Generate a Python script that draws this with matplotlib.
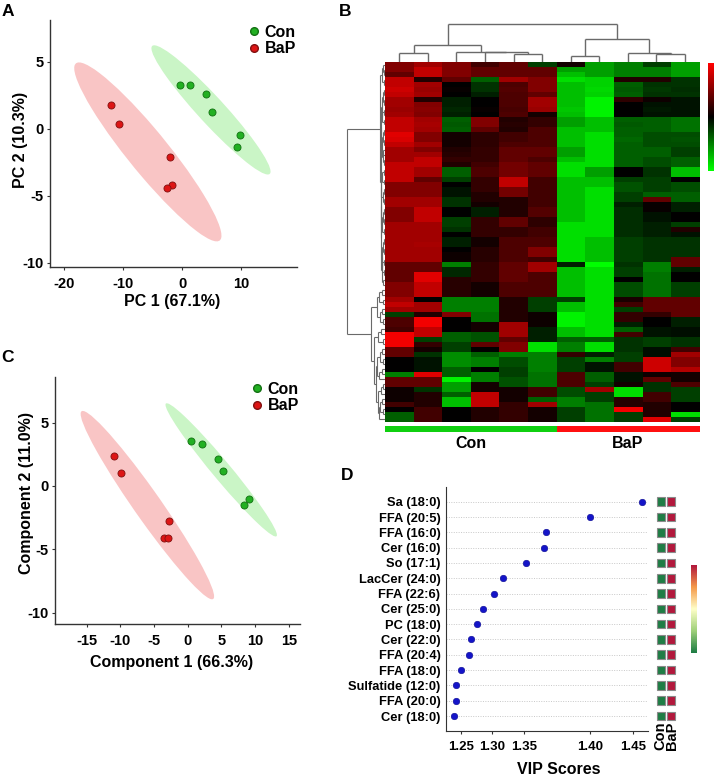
import numpy as np
import matplotlib
matplotlib.use("Agg")
import matplotlib.pyplot as plt
from matplotlib.patches import Ellipse, Rectangle
from matplotlib.colors import LinearSegmentedColormap, ListedColormap
from matplotlib.collections import LineCollection
from matplotlib.lines import Line2D

plt.rcParams['font.family'] = ['Liberation Sans', 'DejaVu Sans']
plt.rcParams['font.weight'] = 'bold'
plt.rcParams['axes.unicode_minus'] = False

# ---------------- data ----------------
groups = ['Con', 'BaP']
# Panel A: PCA scores
pca_con_x = [-0.45, 1.35, 4.06, 5.07, 9.8, 9.24]
pca_con_y = [3.23, 3.23, 2.56, 1.27, -0.5, -1.37]
pca_bap_x = [-12.07, -10.7, -2.1, -1.8, -2.54]
pca_bap_y = [1.74, 0.34, -2.12, -4.16, -4.43]
# Panel C: PLS-DA scores
pls_con_x = [0.49, 2.17, 4.45, 5.19, 9.1, 8.4]
pls_con_y = [3.55, 3.31, 2.13, 1.16, -1.07, -1.47]
pls_bap_x = [-10.89, -9.9, -2.73, -3.56, -2.88]
pls_bap_y = [2.4, 1.03, -2.76, -4.12, -4.12]

# Panel B: heatmap (rows x 11 samples), z-scores
sample_groups = ['Con'] * 6 + ['BaP'] * 5
hm_values = [
    [2, 2.5, 2, 1, 1.5, -1, 0.3, -2.5, -2, -1, -2.5],
    [2, 3, 2, 1.5, 1.5, 1.5, -2.5, -2.5, -2, -2, -2.5],
    [1.5, 3, 2, 1.5, 1.5, 1.5, -3, -2.5, -2, -2, -2.5],
    [3, 0.5, 1.5, -1.5, 2.5, 2, -3.5, -3.3, 0.5, 0.5, -0.8],
    [3, 2.5, 0, -0.8, 1.2, 2, -3, -3.3, -1.5, -0.8, -0.8],
    [3.2, 2.4, 0.1, -0.8, 1.3, 2, -3, -3.4, -1.4, -0.9, -0.7],
    [3, 2.5, 0, -0.5, 1.2, 1.5, -3, -3.3, -1.5, -0.8, -0.8],
    [2.5, 0.5, -0.5, 0, 1.2, 2.5, -3, -3.8, 0.7, 0.2, -0.3],
    [2.5, 2, -0.5, 0, 1.2, 2.5, -3, -3.8, 0, -0.3, -0.3],
    [2.4, 2.1, -0.6, 0.1, 1.1, 2.4, -3.1, -3.8, 0, -0.4, -0.3],
    [2.5, 2, -0.5, 0, 1.2, 0.3, -3, -3.8, 0, -0.3, -0.3],
    [3, 2.5, -1.5, 2, 0.5, 0.8, -2.5, -3, -1.5, -1.5, -1.8],
    [3, 2.6, -1.4, 2, 0.6, 0.8, -2.5, -3, -1.4, -1.5, -1.8],
    [3, 2.5, -1.5, 1.5, 0.5, 1.2, -3, -3, -1.5, -1.5, -1.8],
    [3.5, 2, 0.3, 0.7, 1, 1.2, -3, -3.5, -1.5, -1.2, -1.2],
    [3.4, 2, 0.3, 0.7, 1, 1.2, -3, -3.5, -1.6, -1.2, -1.3],
    [3, 2.5, 0.3, 0.7, 1.2, 1.2, -3, -3.5, -1.5, -1.2, -1.2],
    [2.5, 2, 0.5, 0.8, 1.5, 1.5, -2.5, -3.5, -1.5, -1.5, -1],
    [2.5, 2.5, 0.6, 0.8, 1.5, 1.5, -2.5, -3.5, -1.5, -1.5, -1],
    [2.5, 3, 0.8, 0.8, 1.5, 1.2, -3, -3.5, -1.5, -1.2, -1.5],
    [3, 3, 0.5, 1, 1.8, 1.5, -3.5, -3.5, -1.5, -1.2, -1.5],
    [3, 2.5, -1.5, 1.2, 1.8, 1.5, -3.5, -2.5, 0, -0.8, -3],
    [3, 2.5, -1.5, 1.2, 1.8, 1.5, -3.5, -2.5, 0, -0.8, -3],
    [3, 1.5, -1, 0.8, 3, 1, -3, -3, -1, -1, 0],
    [2, 2, 0, 0.8, 3, 1, -3, -3, -1.3, -1, -1.2],
    [2, 2, -0.3, 0.8, 1.8, 1, -3, -3.5, -1.3, -1, -1.2],
    [2, 2, -0.3, 0.5, 1.8, 1, -3, -3.5, -1, -1.5, -1.5],
    [2.5, 2.5, -0.8, 0.5, 0.5, 1, -3, -3.5, -1, 1.5, -1.5],
    [2.5, 2.5, -0.8, 0.3, 0.5, 1, -3, -3.5, -0.5, 0.1, -0.5],
    [2, 3, 0, -0.5, 0.5, 1.3, -3, -3.5, -0.7, 0.1, -0.5],
    [2, 3, 0, -0.5, 0.5, 1.3, -3, -3.5, -0.7, -0.3, 0],
    [2, 3, -1, 0.8, 1.5, 0.7, -3, -3.5, -0.7, -0.3, 0],
    [2.5, 2.5, -1, 0.8, 1.5, 0.7, -3.5, -3.5, -0.7, -0.5, -1],
    [2.5, 2.5, -0.8, 0.8, 0.8, 1, -3.5, -3.5, -0.7, -0.5, 0.5],
    [2.5, 2.5, 0, 0.8, 0.8, 1, -3.5, -3.5, -0.7, -0.5, -0.3],
    [2.5, 2.5, -0.5, 0.3, 1.2, 1.2, -3.5, -3, -1, -0.8, -0.8],
    [2.5, 2.6, -0.5, 0.3, 1.2, 1.2, -3.5, -3, -1, -0.8, -0.8],
    [2.5, 2.5, 0, 0.6, 1.2, 2, -3.5, -3, -1, -0.8, -0.8],
    [2.5, 2.5, 0.2, 0.6, 1.2, 2, -3.5, -3, -1, -0.8, -0.8],
    [2.5, 2.5, 0.2, 0.6, 1.2, 1, -3.5, -3, -1, -0.8, 1.5],
    [1.5, 1.5, -2, 0.8, 1.5, 2.5, -0.5, -4, -0.8, -2, 1.5],
    [1.5, 1.5, -0.6, 0.8, 1.5, 2.5, -3, -3.5, -1, -2, -0.5],
    [1.5, 3.5, -0.6, 0.8, 1.5, 1.2, -3, -3.5, -1, -1.8, 0],
    [1.5, 3.5, 0.6, 0.8, 1.5, 1.2, -3, -3.5, 0, -1.8, 0],
    [2, 3, 0.6, 0.3, 1.2, 1.2, -3, -3.5, -1.2, -1.8, -1],
    [2, 3, 0.6, 0.3, 1.2, 1.2, -3, -3.5, -1.2, -1.8, -1],
    [2, 3, 0.6, 0.3, 1.2, 1.2, -3, -3.5, -1.2, -1.8, -1],
    [2.5, 0, -2, -2, 0.5, -1, -1, -3.5, 0.4, 1.5, 1.5],
    [3, 2.5, -2, -2, 0.5, -1, -3, -3.5, 1, 1.5, 1.5],
    [2.5, 2.5, -2, -2, 0.5, -1, -3, -3.5, -1, 1.5, 1.5],
    [-1, 0.5, 2, -1.8, 0.5, 0.2, -3.8, -3.5, 0.8, 0.8, 1.5],
    [1.2, 3.8, 0, -1.8, 0.5, 0.2, -3.8, -3.5, 0.8, 0, -0.5],
    [1.2, 3.8, 0, 0.3, 2.5, 0.2, -3.8, -3.5, -0.5, 0, -0.5],
    [1, 3, 0, 0.3, 2.5, -0.5, -3, -3.5, -1.5, -0.3, -0.2],
    [3.8, 3, -1.5, -1.3, 2.5, -0.5, -3, -3.5, 1, -0.3, -0.2],
    [3.8, -1, -1.5, -1.3, 1.5, -0.5, -1.5, -1.5, -0.8, -1, -0.8],
    [3.8, 0.8, -1, 1.5, 2, -3.5, -2, -3.5, -0.8, -1, -0.8],
    [1.5, 0.3, -1, 0, 2, -3.5, -2, -3.5, -0.8, -0.2, 1],
    [1.5, -0.8, -2.2, -1.5, -2, -2, 0.8, -0.5, -1, -0.2, 2.5],
    [0, -0.3, -2.2, -2, -1.2, -2, -1, -2, -1, 3.2, 2],
    [0, -0.3, -2.2, -2, -1.2, -2, -1, -0.3, 1, 3.2, 2],
    [0, -0.3, -1.5, 0, -1, -2, -1, -0.3, 1, 3.2, 2.8],
    [-2, 3.5, -1.5, -2, -1, -1.8, 1.2, -1.5, -0.3, 0.2, 0.3],
    [1.5, 1.5, -3.8, -2, -1.3, -1.8, 1.2, -1.5, -0.3, 1.5, 0.3],
    [1.5, 1.5, -2.5, 0.3, -1.3, -1.8, 1.2, -1, 0.3, -0.8, 1.2],
    [0.2, -0.8, -2.5, 0.3, 0.3, 1, -1.2, 2.5, -3.5, -0.8, -1],
    [0.2, 0.5, -1.5, 3, 0.3, 1, -1.2, -1, -3.5, 1, -1],
    [0.2, 0.5, -3, 3, 0.3, -1.5, -2, -1, 0.6, 1, -1],
    [1, 0.5, -3, 3, 0.8, 2.5, -2, -1.8, 0.6, 0.5, 0],
    [0, 1, 0, 0.5, 0.8, 0.3, -1, -1.8, 3.8, 0.5, 0],
    [-1.5, 1, 0, 0.5, 0.8, 0.3, -1, -1.8, -1, 0.5, -3.5],
    [-1.5, 1, 0, 0.5, 0.8, 0.3, -1, -1.8, -1, 3.5, -1],
]
# dendrogram merge heights between adjacent leaves (pixel-like units)
col_gaps = [9.4, 17, 10.3, 10, 7.7, 37.7, 5.7, 23.4, 8.7, 8]
row_gaps = ([2.0, 1.2, 3.0, 1.5, 5.0,
             1.0, 2.2, 0.8, 3.5, 1.4, 2.6, 0.9, 4.2, 1.1, 2.0,
             0.7, 3.1, 1.6, 2.4, 0.8, 4.5, 1.3, 2.8, 0.9, 3.6,
             1.2, 2.1, 0.6, 3.9, 1.5, 2.5, 1.0, 3.3, 1.1, 4.0,
             0.8, 2.2, 1.4, 3.0, 0.7, 2.7, 1.2, 3.4, 1.8,
             38.0,
             3.0, 6.5, 2.0, 8.5, 3.5, 5.0, 2.5,
             14.3,
             4.0, 7.0, 2.5, 10.7, 3.0, 5.5, 2.0, 8.0, 3.5, 6.0,
             9.5, 2.5, 4.5, 7.5, 3.0, 5.0, 2.0, 6.5])

# Panel D: VIP scores
vip_names = ['Sa (18:0)', 'FFA (20:5)', 'FFA (16:0)', 'Cer (16:0)', 'So (17:1)',
             'LacCer (24:0)', 'FFA (22:6)', 'Cer (25:0)', 'PC (18:0)', 'Cer (22:0)',
             'FFA (20:4)', 'FFA (18:0)', 'Sulfatide (12:0)', 'FFA (20:0)', 'Cer (18:0)']
vip_scores = [1.460, 1.400, 1.3665, 1.365, 1.351, 1.316, 1.303, 1.286, 1.275,
              1.267, 1.263, 1.250, 1.243, 1.242, 1.240]
vip_con_level = [-1] * 15
vip_bap_level = [1] * 15
vip_ticks = [1.25, 1.30, 1.35, 1.40, 1.45]

# ---------------- figure ----------------
W, H = 714, 781
fig = plt.figure(figsize=(W / 100, H / 100), dpi=100)


def box(x0, y0, x1, y1):
    return [x0 / W, 1 - y1 / H, (x1 - x0) / W, (y1 - y0) / H]


def ftext(x, y, s, **kw):
    fig.text(x / W, 1 - y / H, s, **kw)


CHI2_95 = 5.991


def conf_ellipse(ax, x, y, color):
    x = np.asarray(x); y = np.asarray(y)
    cov = np.cov(x, y)
    vals, vecs = np.linalg.eigh(cov)
    order = vals.argsort()[::-1]
    vals, vecs = vals[order], vecs[:, order]
    ang = np.degrees(np.arctan2(vecs[1, 0], vecs[0, 0]))
    w, h = 2 * np.sqrt(CHI2_95 * vals)
    ax.add_patch(Ellipse((x.mean(), y.mean()), w, h, angle=ang,
                         facecolor=color, edgecolor='none', zorder=1))


def score_panel(rect, cx, cy, bx, by, xlim, ylim, xticks, yticks, tfs):
    ax = fig.add_axes(box(*rect))
    conf_ellipse(ax, bx, by, '#f9c5c5')
    conf_ellipse(ax, cx, cy, '#caf5c6')
    ax.scatter(cx, cy, s=26, color='#22b022', edgecolor='#127012', linewidth=0.6, zorder=3)
    ax.scatter(bx, by, s=26, color='#dd1515', edgecolor='#801010', linewidth=0.6, zorder=3)
    ax.set_xlim(*xlim); ax.set_ylim(*ylim)
    ax.set_xticks(xticks); ax.set_yticks(yticks)
    for s in ['top', 'right']:
        ax.spines[s].set_visible(False)
    for s in ['left', 'bottom']:
        ax.spines[s].set_color('#333333'); ax.spines[s].set_linewidth(1.0)
    ax.tick_params(axis='both', direction='out', length=2.5, width=0.8, labelsize=tfs, color='#333333')
    ax.tick_params(axis='x', pad=5)
    ax.tick_params(axis='y', pad=2)
    handles = [Line2D([], [], marker='o', ls='none', color='#22b022', markeredgecolor='#127012', markersize=5.5),
               Line2D([], [], marker='o', ls='none', color='#dd1515', markeredgecolor='#801010', markersize=5.5)]
    ax.legend(handles, groups, loc='upper right', bbox_to_anchor=(1.035, 1.02), frameon=False,
              fontsize=11.5, handletextpad=0.05, labelspacing=0.1, borderaxespad=0.2, handlelength=1.2)
    return ax


# Panel A
score_panel((50, 20, 297, 267), pca_con_x, pca_con_y, pca_bap_x, pca_bap_y,
            (-22.4, 19.4), (-10.3, 8.1), [-20, -10, 0, 10], [5, 0, -5, -10], 10.5)
ftext(172, 301, 'PC 1 (67.1%)', ha='center', va='center', fontsize=11.5)
ftext(21, 140, 'PC 2 (10.3%)', ha='center', va='center', rotation=90, fontsize=11.5)

# Panel C
score_panel((55, 377, 300, 624), pls_con_x, pls_con_y, pls_bap_x, pls_bap_y,
            (-19.7, 16.66), (-10.9, 8.6), [-15, -10, -5, 0, 5, 10, 15], [5, 0, -5, -10], 10.5)
ftext(172, 662, 'Component 1 (66.3%)', ha='center', va='center', fontsize=11.5)
ftext(27, 493, 'Component 2 (11.0%)', ha='center', va='center', rotation=90, fontsize=11.5)

# Panel B heatmap
hm = np.array(hm_values, dtype=float)
nrow, ncol = hm.shape
hm_cmap = LinearSegmentedColormap.from_list('gkr', ['#00ff00', '#000000', '#ff0000'])
HX0, HX1, HY0, HY1 = 385, 699.3, 62, 422
axh = fig.add_axes(box(HX0, HY0, HX1, HY1))
axh.imshow(hm, cmap=hm_cmap, vmin=-4, vmax=4, aspect='auto', interpolation='nearest')
axh.set_axis_off()


def dendro_segments(gaps, lo, hi, segs):
    if lo == hi:
        return float(lo), 0.0
    k = lo + int(np.argmax(gaps[lo:hi]))
    h = gaps[k]
    p1, h1 = dendro_segments(gaps, lo, k, segs)
    p2, h2 = dendro_segments(gaps, k + 1, hi, segs)
    segs.append(((p1, h1), (p1, h)))
    segs.append(((p2, h2), (p2, h)))
    segs.append(((p1, h), (p2, h)))
    return (p1 + p2) / 2, h


# column dendrogram
segs = []
dendro_segments(col_gaps, 0, ncol - 1, segs)
axcd = fig.add_axes(box(HX0, 20, HX1, HY0))
axcd.add_collection(LineCollection(segs, colors='#6a6a6a', linewidths=1.0))
axcd.set_xlim(-0.5, ncol - 0.5); axcd.set_ylim(0, 42)
axcd.set_axis_off()

# row dendrogram
segs = []
dendro_segments(row_gaps, 0, nrow - 1, segs)
segs = [((h1, p1), (h2, p2)) for (p1, h1), (p2, h2) in segs]
axrd = fig.add_axes(box(345, HY0, HX0, HY1))
axrd.add_collection(LineCollection(segs, colors='#6a6a6a', linewidths=0.8))
axrd.set_xlim(40, 0); axrd.set_ylim(nrow - 0.5, -0.5)
axrd.set_axis_off()

# group bar
axg = fig.add_axes(box(HX0, 426, HX1, 432))
gcode = np.array([[groups.index(g) for g in sample_groups]])
axg.imshow(gcode, cmap=ListedColormap(['#10d010', '#ff1010']), vmin=0, vmax=1,
           aspect='auto', interpolation='nearest')
axg.set_axis_off()
colw = (HX1 - HX0) / ncol
for g in groups:
    idx = [i for i, s in enumerate(sample_groups) if s == g]
    ftext(HX0 + colw * (np.mean(idx) + 0.5), 443, g, ha='center', va='center', fontsize=11.5)

# heatmap colour key
axk = fig.add_axes(box(708, 63, 716, 171))
axk.imshow(np.linspace(4, -4, 100)[:, None], cmap=hm_cmap, vmin=-4, vmax=4, aspect='auto')
axk.set_axis_off()

# Panel D
kv = [1.20, 1.25, 1.30, 1.35, 1.40, 1.45, 1.50]
kp = [-31.6, 0, 31.6, 63.6, 129.3, 172.6, 215.9]


def fwd(v):
    return np.interp(v, kv, kp)


def inv(p):
    return np.interp(p, kp, kv)


axd = fig.add_axes(box(446, 486.7, 648, 730.7))
axd.set_xscale('function', functions=(fwd, inv))
ypos = np.arange(len(vip_names))
for yv in ypos:
    axd.axhline(yv, color='#c8c8c8', lw=0.7, ls=(0, (1, 1.5)), zorder=1)
axd.scatter(vip_scores, ypos, s=22, color='#1414c8', edgecolor='#0a0a90', linewidth=0.4, zorder=3)
axd.set_xlim(1.2267, 1.467)
axd.set_ylim(len(vip_names) - 0.04, -0.98)
axd.set_yticks(ypos)
axd.set_yticklabels(vip_names, fontsize=9.3)
axd.set_xticks(vip_ticks)
axd.set_xticklabels(['%.2f' % t for t in vip_ticks], fontsize=9.5)
axd.xaxis.set_minor_locator(matplotlib.ticker.NullLocator())
axd.tick_params(axis='y', length=0, pad=4)
axd.tick_params(axis='x', length=2.5, pad=5, color='#333333')
for s in ['top', 'right']:
    axd.spines[s].set_visible(False)
for s in ['left', 'bottom']:
    axd.spines[s].set_color('#333333')
ftext(559, 770, 'VIP Scores', ha='center', va='center', fontsize=11.5)

# VIP side boxes
d_cmap = LinearSegmentedColormap.from_list('d', ['#1f7d45', '#9fd07a', '#ffffc8', '#f59a4a', '#b2183c'])
axb = fig.add_axes(box(652.8, 486.7, 680.8, 730.7))
axb.set_xlim(-0.8, 2.0)
axb.set_ylim(len(vip_names) - 0.04, -0.98)
axb.set_axis_off()
for j, levels in enumerate([vip_con_level, vip_bap_level]):
    for i, lv in enumerate(levels):
        axb.add_patch(Rectangle((j - 0.42, i - 0.28), 0.84, 0.56,
                                facecolor=d_cmap((lv + 1) / 2), edgecolor='#8a8a8a', lw=0.8))
ftext(666, 722, '\n'.join(groups), ha='center', va='top', rotation=90, fontsize=10.5,
      linespacing=0.78, multialignment='right')

axdk = fig.add_axes(box(690.7, 565, 696.3, 652.7))
axdk.imshow(np.linspace(1, -1, 100)[:, None], cmap=d_cmap, vmin=-1, vmax=1, aspect='auto')
axdk.set_axis_off()

# panel letters
ftext(1.5, 12, 'A', ha='left', va='center', fontsize=12.5)
ftext(339, 12, 'B', ha='left', va='center', fontsize=12.5)
ftext(1.5, 358, 'C', ha='left', va='center', fontsize=12.5)
ftext(341, 475, 'D', ha='left', va='center', fontsize=12.5)

fig.savefig('out.png', dpi=100)
